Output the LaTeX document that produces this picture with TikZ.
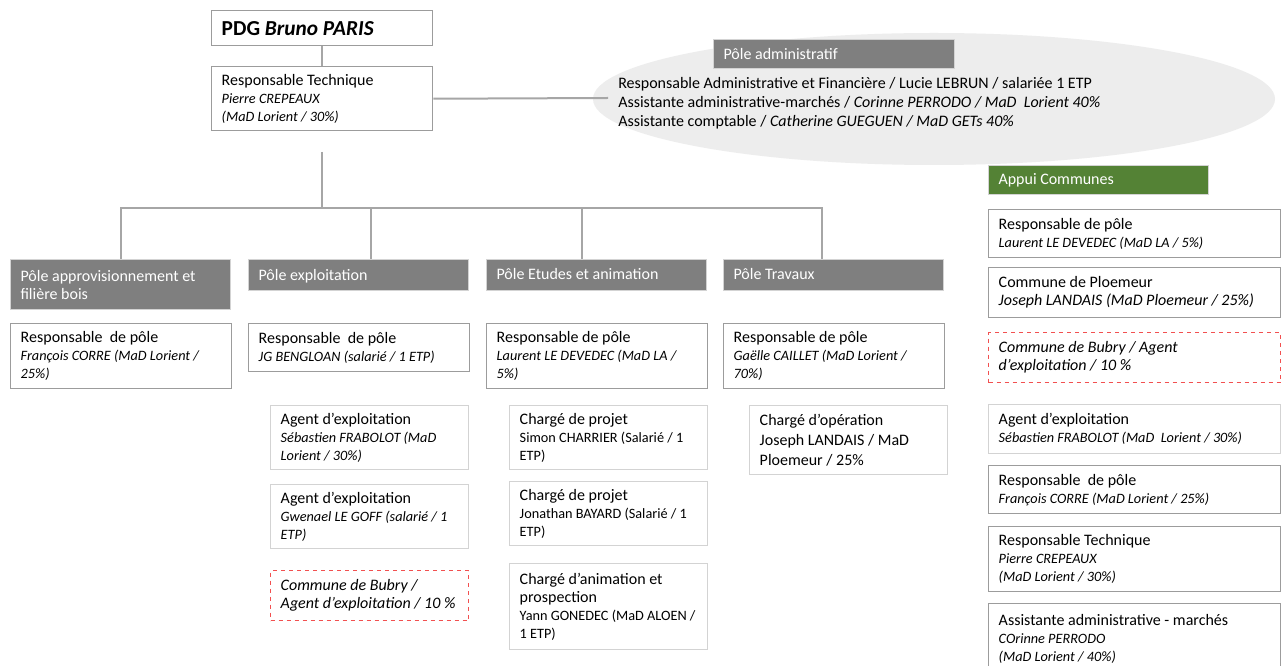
\documentclass[tikz,border=0pt]{standalone}
\usepackage{fontspec}
\setmainfont{Carlito}
\usetikzlibrary{positioning,shapes.geometric}

\definecolor{linegray}{HTML}{A6A6A6}
\definecolor{boxgray}{HTML}{9C9C9C}
\definecolor{softgray}{HTML}{D3D3D3}
\definecolor{headgray}{HTML}{7F7F7F}
\definecolor{ellgray}{HTML}{EDEDED}
\definecolor{appuigreen}{HTML}{548235}
\definecolor{dashred}{HTML}{F25050}

\newcommand{\nm}[1]{{\fontsize{10.7}{13.5}\selectfont\spaceskip=0pt\relax\itshape #1}}
\newcommand{\nmup}[1]{{\fontsize{10.7}{13.5}\selectfont\spaceskip=0pt\relax #1}}

\tikzset{
  persbox/.style={draw=boxgray, line width=1.1pt, fill=white, anchor=north west, align=flush left,
    inner xsep=7.5pt, inner ysep=2pt, font=\fontsize{12}{13.5}\selectfont},
  widebox/.style={persbox, text width=150.75pt, minimum height=#1},
  subbox/.style={persbox, draw=softgray, text width=133.5pt, minimum height=#1},
  longbox/.style={persbox, text width=204pt, minimum height=#1},
  bubrybox/.style={draw=dashred, dashed},
  headbox/.style={fill=headgray, draw=softgray, line width=0.8pt, anchor=north west, align=flush left,
    text=white, inner xsep=7.5pt, text width=150pt, minimum height=#1, font=\fontsize{12}{13.5}\selectfont},
  conn/.style={draw=linegray, line width=1.5pt}
}

\begin{document}
\begin{tikzpicture}[x=0.75pt, y=-0.75pt]
\path[fill=white, use as bounding box] (0,0) rectangle (1282,666);

% top of the chart
\node[widebox=26.25pt, font=\fontsize{16}{18}\selectfont\bfseries] (pdg) at (211,10) {PDG \textit{Bruno PARIS}};
\node[widebox=48pt] (rt) at (211,66) {Responsable Technique\\ \nm{Pierre CREPEAUX}\\ \nm{(MaD Lorient / 30\%)}};

% administrative pole
\node[ellipse, fill=ellgray, minimum width=511.5pt, minimum height=99pt] (adm) at (934,99) {};
\node[headbox=21.75pt, text width=165.75pt] (padm) at (713,39) {Pôle administratif};
\node[anchor=west, align=left, inner sep=0pt, font=\fontsize{12}{14.25}\selectfont] (admtext) at (618,103)
  {Responsable Administrative et Financière / Lucie LEBRUN / salariée 1 ETP\\
   Assistante administrative-marchés / \textit{Corinne PERRODO / MaD~ Lorient 40\%}\\
   Assistante comptable / \textit{Catherine GUEGUEN / MaD GETs 40\%}};
\coordinate (admin) at (608,98);

% poles
\node[headbox=37.5pt] (h1) at (10,259) {Pôle approvisionnement et\\ filière bois};
\node[headbox=23.25pt] (h2) at (248,259) {Pôle exploitation\vphantom{É}};
\node[headbox=23.25pt] (h3) at (486,259) {Pôle Etudes et animation\vphantom{p}};
\node[headbox=23.25pt] (h4) at (723,259) {Pôle Travaux\vphantom{p}};

\node[widebox=48.75pt] (r1) at (10,323) {Responsable~ de pôle\\ \nm{François CORRE (MaD Lorient /}\\ \nm{25\%)}};
\node[widebox=36pt] (r2) at (248,323) {Responsable~ de pôle\\ \nm{JG BENGLOAN (salarié / 1 ETP)}};
\node[widebox=48.75pt] (r3) at (486,323) {Responsable de pôle\\ \nm{Laurent LE DEVEDEC (MaD LA /}\\ \nm{5\%)}};
\node[widebox=48.75pt] (r4) at (723,323) {Responsable de pôle\\ \nm{Gaëlle CAILLET (MaD Lorient /}\\ \nm{70\%)}};

% exploitation
\node[subbox=48pt] (a1) at (270,405) {Agent d’exploitation\\ \nm{Sébastien FRABOLOT (MaD}\\ \nm{Lorient / 30\%)}};
\node[subbox=48pt] (a2) [below=10.15pt of a1] {Agent d’exploitation\\ \nm{Gwenael LE GOFF (salarié / 1}\\ \nm{ETP)}};
\node[subbox=37.5pt, bubrybox] (bub1) [below=15.4pt of a2] {{\itshape Commune de Bubry /\\ Agent d’exploitation / 10 \%}};

% etudes
\node[subbox=48pt] (c1) at (509,405) {Chargé de projet\\ \nmup{Simon CHARRIER (Salarié / 1}\\ \nmup{ETP)}};
\node[subbox=48pt] (c2) [below=7.9pt of c1] {Chargé de projet\\ \nmup{Jonathan BAYARD (Salarié / 1}\\ \nmup{ETP)}};
\node[subbox=64.5pt] (c3) [below=12.4pt of c2] {Chargé d’animation et\\ prospection\\ \nmup{Yann GONEDEC (MaD ALOEN /}\\ \nmup{1 ETP)}};

% travaux
\node[subbox=51.75pt, font=\fontsize{12}{15}\selectfont] (t1) at (749,405) {Chargé d’opération\\ Joseph LANDAIS / MaD\\ Ploemeur / 25\%};

% appui communes
\node[headbox=21.75pt, fill=appuigreen] (appui) at (988,165) {Appui Communes};
\node[longbox=36pt] (k1) at (988,209) {Responsable de pôle\\ \nm{Laurent LE DEVEDEC (MaD LA / 5\%)}};
\node[longbox=37.5pt] (k2) [below=6.4pt of k1] {Commune de Ploemeur\\ \textit{Joseph LANDAIS (MaD Ploemeur / 25\%)}};
\node[longbox=37.5pt, bubrybox] (k3) [below=10.15pt of k2] {{\itshape Commune de Bubry / Agent\\ d’exploitation / 10 \%}};
\node[longbox=36.75pt, draw=softgray] (k4) [below=15.4pt of k3] {Agent d’exploitation\\ \nm{Sébastien FRABOLOT (MaD~ Lorient / 30\%)}};
\node[longbox=36pt] (k5) [below=7.9pt of k4] {Responsable~ de pôle\\ \nm{François CORRE (MaD Lorient / 25\%)}};
\node[longbox=48.75pt] (k6) [below=8.65pt of k5] {Responsable Technique\\ \nm{Pierre CREPEAUX}\\ \nm{(MaD Lorient / 30\%)}};
\node[longbox=52.5pt] (k7) [below=7.9pt of k6] {Assistante administrative - marchés\\ \nm{COrinne PERRODO}\\ \nm{(MaD Lorient / 40\%)}};

% connectors
\coordinate (stem) at (322,152);
\coordinate (fork) at (322,208);
\draw[conn] (pdg) -- (rt);
\draw[conn] (rt.east) -- (admin);
\draw[conn] (stem) -- (fork);
\draw[conn] (h1.north) |- (fork) -| ([xshift=-8.625pt]h4.north);
\draw[conn] ([xshift=9.375pt]h2.north) -- ([xshift=9.375pt]h2.north |- fork);
\draw[conn] ([xshift=-10.875pt]h3.north) -- ([xshift=-10.875pt]h3.north |- fork);

\end{tikzpicture}
\end{document}
